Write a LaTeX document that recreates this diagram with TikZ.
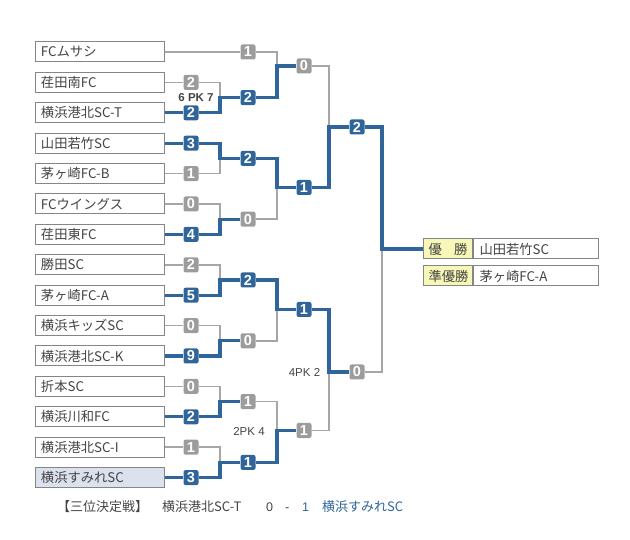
\documentclass[tikz,border=0pt]{standalone}
\usepackage{fontspec}
\setmainfont{Noto Sans CJK JP}
\newfontfamily\digitfont{Liberation Sans}
\usetikzlibrary{positioning}
\definecolor{wblue}{HTML}{2F6599}
\definecolor{lgray}{HTML}{A6A6A6}
\definecolor{bgray}{HTML}{9C9C9C}
\definecolor{boxgray}{HTML}{858585}
\definecolor{txt}{HTML}{444444}
\definecolor{yelcell}{HTML}{F7F7B8}
\definecolor{selbox}{HTML}{DCE1EE}

\begin{document}
\begin{tikzpicture}[x=1pt,y=-1pt,
  team/.style={draw=boxgray,line width=1pt,fill=white,anchor=west,minimum height=20pt,
    text width=117.5pt,inner xsep=6pt,inner ysep=0pt,align=left,text=txt,
    font=\fontsize{13.3}{13.3}\selectfont},
  lnl/.style={lgray,line width=1.5pt},
  lnw/.style={wblue,line width=3.2pt},
  scl/.style={fill=bgray,text=white,rounded corners=2pt,minimum width=15pt,minimum height=15pt,
    inner sep=0pt,font=\digitfont\bfseries\fontsize{14.5}{14.5}\selectfont},
  scw/.style={scl,fill=wblue},
  pk/.style={text=txt,font=\digitfont\fontsize{11.5}{11.5}\selectfont},
  lab/.style={team,fill=yelcell,text width=39pt,inner xsep=5pt},
  val/.style={team,text width=113pt},
  third/.style={anchor=base west,inner sep=0pt,text=txt,font=\fontsize{13}{13}\selectfont}]
\useasboundingbox (0,0) rectangle (630,540);

% teams
\foreach \name [count=\i from 0] in {FCムサシ,荏田南FC,横浜港北SC-T,山田若竹SC,茅ヶ崎FC-B,
    FCウイングス,荏田東FC,勝田SC,茅ヶ崎FC-A,横浜キッズSC,横浜港北SC-K,折本SC,横浜川和FC,横浜港北SC-I}
  \node[team] (t\i) at (34.5,{52+30.4*\i}) {\name};
\node[team,fill=selbox] (t14) at (34.5,{52+30.4*14}) {横浜すみれSC};

% join columns
\coordinate (j1) at (220,0);
\coordinate (j2) at (277,0);
\coordinate (j3) at (329,0);
\coordinate (j4) at (382,0);

% 1st round
\foreach \i/\s/\k in {1/2/l,2/2/w,3/3/w,4/1/l,5/0/l,6/4/w,7/2/l,8/5/w,
    9/0/l,10/9/w,11/0/l,12/2/w,13/1/l,14/3/w}
  \node[sc\k] (a\i) at (191,{52+30.4*\i}) {\s};

% 2nd round
\node[scl] (b0) at (248,52) {1};
\foreach \i/\s/\k in {1/2/w,3/2/w,5/0/l,7/2/w,9/0/l,11/1/l,13/1/w}
  \node[sc\k] (b\i) at (248,{52+30.4*(\i+0.5)}) {\s};

% semi finals and final
\node[scl] (c1) at (304,66) {0};
\node[scw] (c2) at (304,187.5) {1};
\node[scw] (c3) at (304,309.5) {1};
\node[scl] (c4) at (304,430.5) {1};
\node[scw] (d1) at (357,127) {2};
\node[scl] (d2) at (357,372) {0};

% team lines
\draw[lnl] (t0.east) -- (b0.west);
\foreach \i/\k in {1/l,2/w,3/w,4/l,5/l,6/w,7/l,8/w,9/l,10/w,11/l,12/w,13/l,14/w}
  \draw[ln\k] (t\i.east) -- (a\i.west);

% losers first, winners on top
\foreach \f/\t/\j in {a1/b1/j1,a4/b3/j1,a5/b5/j1,a7/b7/j1,a9/b9/j1,a11/b11/j1,a13/b13/j1,
    b0/c1/j2,b5/c2/j2,b9/c3/j2,b11/c4/j2,c1/d1/j3,c4/d2/j3}
  \draw[lnl] (\f.east) -- (\f.east -| \j) -- (\j |- \t.west);
\draw[lnl] (d2.east) -- (d2.east -| j4) -- (j4 |- 0,249);
\foreach \f/\t/\j in {a2/b1/j1,a3/b3/j1,a6/b5/j1,a8/b7/j1,a10/b9/j1,a12/b11/j1,a14/b13/j1,
    b1/c1/j2,b3/c2/j2,b7/c3/j2,b13/c4/j2,c2/d1/j3,c3/d2/j3}
  \draw[lnw] (\f.east) -- (\f.east -| \j) |- (\t.west);

% PK
\node[pk,font=\digitfont\bfseries\fontsize{11.5}{11.5}\selectfont] (pk1) at (196,97.5) {6 PK 7};
\node[pk] (pk2) at (249,431) {2PK 4};
\node[pk] (pk3) at (304.5,372) {4PK 2};

% result
\node[lab] (lab1) at (423,249) {優\hfill 勝};
\node[val] (val1) at (lab1.east) {山田若竹SC};
\node[lab] (lab2) at (423,276) {準優勝};
\node[val] (val2) at (lab2.east) {茅ヶ崎FC-A};
\draw[lnw] (d1.east) -- (d1.east -| j4) |- (lab1.west);

% 3rd place
\node[third] (th1) at (57,511) {【三位決定戦】};
\node[third] (th2) at (162,511) {横浜港北SC-T};
\node[third,font=\digitfont\fontsize{12.5}{12.5}\selectfont] (th3) at (266,511) {0};
\node[third,font=\digitfont\fontsize{12.5}{12.5}\selectfont] (th4) at (285,511) {-};
\node[third,text=wblue,font=\digitfont\fontsize{12.5}{12.5}\selectfont] (th5) at (302,511) {1};
\node[third,text=wblue] (th6) at (322,511) {横浜すみれSC};
\end{tikzpicture}
\end{document}
